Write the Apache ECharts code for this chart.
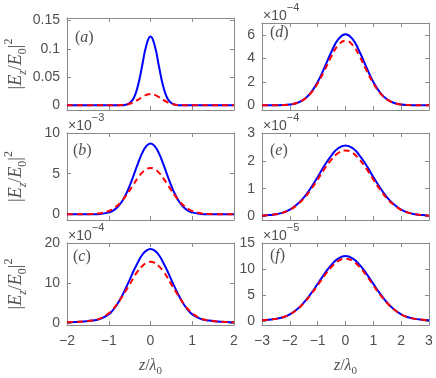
<!DOCTYPE html>
<html>
<head>
<meta charset="utf-8">
<script src="https://cdn.jsdelivr.net/npm/echarts@6/dist/echarts.min.js"></script>
<style>
  html, body { margin: 0; padding: 0; background: #fff; }
  #chart { width: 436px; height: 378px; }
</style>
</head>
<body>
<div id="chart"></div>
<script>
// z / lambda0 sample points
const zLeft = [-2, -1.8, -1.6, -1.4, -1.2, -1, -0.9, -0.8, -0.7, -0.6, -0.5, -0.4, -0.3, -0.2, -0.1, 0,
  0.1, 0.2, 0.3, 0.4, 0.5, 0.6, 0.7, 0.8, 0.9, 1, 1.2, 1.4, 1.6, 1.8, 2]
const zRight = [-3, -2.75, -2.5, -2.25, -2, -1.75, -1.5, -1.25, -1, -0.75, -0.5, -0.25, 0,
  0.25, 0.5, 0.75, 1, 1.25, 1.5, 1.75, 2, 2.25, 2.5, 2.75, 3]

// |Ez/E0|^2, as shown on each axis (already scaled by the x10^n factor)
const blueA = [0, 0, 0, 0, 0, 0, 0, 0, 0, 0.001, 0.004, 0.013, 0.035, 0.070, 0.106, 0.122,
  0.106, 0.070, 0.035, 0.013, 0.004, 0.001, 0, 0, 0, 0, 0, 0, 0, 0, 0]
const redA = [0, 0, 0, 0, 0, 0, 0, 0.0001, 0.0004, 0.0011, 0.0027, 0.0056, 0.0097, 0.0145, 0.0185, 0.020,
  0.0185, 0.0145, 0.0097, 0.0056, 0.0027, 0.0011, 0.0004, 0.0001, 0, 0, 0, 0, 0, 0, 0]
const blueB = [0, 0, 0, 0.01, 0.05, 0.23, 0.45, 0.84, 1.45, 2.34, 3.49, 4.85, 6.26, 7.52, 8.39, 8.7,
  8.39, 7.52, 6.26, 4.85, 3.49, 2.34, 1.45, 0.84, 0.45, 0.23, 0.05, 0.01, 0, 0, 0]
const redB = [0, 0, 0.01, 0.03, 0.13, 0.40, 0.67, 1.05, 1.56, 2.2, 2.94, 3.73, 4.49, 5.13, 5.55, 5.7,
  5.55, 5.13, 4.49, 3.73, 2.94, 2.2, 1.56, 1.05, 0.67, 0.40, 0.13, 0.03, 0.01, 0, 0]
const blueC = [0.15, 0.22, 0.35, 0.55, 1.0, 2.1, 3.2, 4.6, 6.4, 8.5, 10.75, 13.1, 15.2, 17.0, 18.1, 18.5,
  18.1, 17.0, 15.2, 13.1, 10.75, 8.5, 6.4, 4.6, 3.2, 2.1, 1.0, 0.55, 0.35, 0.22, 0.15]
const redC = [0.15, 0.22, 0.35, 0.6, 1.1, 2.4, 3.4, 4.7, 6.2, 7.9, 9.6, 11.4, 13.0, 14.2, 15.0, 15.3,
  15.0, 14.2, 13.0, 11.4, 9.6, 7.9, 6.2, 4.7, 3.4, 2.4, 1.1, 0.6, 0.35, 0.22, 0.15]
const blueD = [0, 0, 0.01, 0.02, 0.07, 0.2, 0.49, 1.06, 1.99, 3.24, 4.58, 5.64, 6.05,
  5.64, 4.58, 3.24, 1.99, 1.06, 0.49, 0.2, 0.07, 0.02, 0.01, 0, 0]
const redD = [0, 0, 0.01, 0.02, 0.07, 0.2, 0.48, 1.02, 1.87, 2.99, 4.2, 5.14, 5.5,
  5.14, 4.2, 2.99, 1.87, 1.02, 0.48, 0.2, 0.07, 0.02, 0.01, 0, 0]
const blueE = [0.03, 0.05, 0.08, 0.14, 0.25, 0.43, 0.68, 1.02, 1.42, 1.84, 2.2, 2.46, 2.55,
  2.46, 2.2, 1.84, 1.42, 1.02, 0.68, 0.43, 0.25, 0.14, 0.08, 0.05, 0.03]
const redE = [0.03, 0.05, 0.08, 0.14, 0.24, 0.41, 0.64, 0.96, 1.33, 1.72, 2.05, 2.29, 2.37,
  2.29, 2.05, 1.72, 1.33, 0.96, 0.64, 0.41, 0.24, 0.14, 0.08, 0.05, 0.03]
const blueF = [0.25, 0.35, 0.5, 0.8, 1.36, 2.29, 3.6, 5.26, 7.18, 9.15, 10.88, 12.07, 12.5,
  12.07, 10.88, 9.15, 7.18, 5.26, 3.6, 2.29, 1.36, 0.8, 0.5, 0.35, 0.25]
const redF = [0.25, 0.35, 0.5, 0.8, 1.35, 2.25, 3.5, 5.1, 6.9, 8.8, 10.45, 11.6, 12.0,
  11.6, 10.45, 8.8, 6.9, 5.1, 3.5, 2.25, 1.35, 0.8, 0.5, 0.35, 0.25]

// tick labels
const xTicksLeft = [-2, -1, 0, 1, 2]
const xTicksRight = [-3, -2, -1, 0, 1, 2, 3]
const yTicksA = [0, 0.05, 0.1, 0.15]
const yTicksB = [0, 5, 10]
const yTicksC = [0, 10, 20]
const yTicksD = [0, 2, 4, 6]
const yTicksE = [0, 1, 2, 3]
const yTicksF = [0, 5, 10, 15]
const panelNames = ['a', 'b', 'c', 'd', 'e', 'f']
const exponents = [null, '−3', '−4', '−4', '−4', '−5']

const AXIS = '#8a8a8a'
const TXT = '#505050'
const SANS = 'Liberation Sans'
const SERIF = 'Liberation Serif'

const panels = [
  { box: [67, 18, 167, 92], x: zLeft, xr: [-2, 2], xt: xTicksLeft, yr: [-0.0083, 0.1546], yt: yTicksA, blue: blueA, red: redA, col: 0, last: false },
  { box: [67, 133, 167, 87], x: zLeft, xr: [-2, 2], xt: xTicksLeft, yr: [-0.7, 10], yt: yTicksB, blue: blueB, red: redB, col: 0, last: false },
  { box: [67, 243, 167, 86], x: zLeft, xr: [-2, 2], xt: xTicksLeft, yr: [-0.55, 20], yt: yTicksC, blue: blueC, red: redC, col: 0, last: true },
  { box: [262, 23, 167, 87], x: zRight, xr: [-3, 3], xt: xTicksRight, yr: [-0.4, 7], yt: yTicksD, blue: blueD, red: redD, col: 1, last: false },
  { box: [262, 133, 167, 87], x: zRight, xr: [-3, 3], xt: xTicksRight, yr: [-0.126, 3], yt: yTicksE, blue: blueE, red: redE, col: 1, last: false },
  { box: [262, 243, 167, 86], x: zRight, xr: [-3, 3], xt: xTicksRight, yr: [-0.67, 15], yt: yTicksF, blue: blueF, red: redF, col: 1, last: true },
]
// panel letter positions (left, top)
const letterPos = [[75, 30], [73, 143], [73, 249], [270, 25], [270, 143], [270, 248]]

const minus = v => String(v).replace('-', '−')

const nameRich = {
  t: { fontFamily: SERIF, fontStyle: 'italic', fontWeight: 'normal', fontSize: 18, color: TXT, lineHeight: 26, verticalAlign: 'middle' },
  u: { fontFamily: SERIF, fontWeight: 'normal', fontSize: 18, color: TXT, lineHeight: 26, verticalAlign: 'middle' },
  s: { fontFamily: SERIF, fontStyle: 'italic', fontWeight: 'normal', fontSize: 12, color: TXT, lineHeight: 26, verticalAlign: 'bottom' },
  s0: { fontFamily: SERIF, fontWeight: 'normal', fontSize: 12, color: TXT, lineHeight: 26, verticalAlign: 'bottom' },
  p: { fontFamily: SERIF, fontWeight: 'normal', fontSize: 12, color: TXT, lineHeight: 26, verticalAlign: 'top' },
}
const xNameRich = {
  t: { fontFamily: SERIF, fontStyle: 'italic', fontWeight: 'normal', fontSize: 16, color: TXT, lineHeight: 22, verticalAlign: 'middle' },
  u: { fontFamily: SERIF, fontWeight: 'normal', fontSize: 16, color: TXT, lineHeight: 22, verticalAlign: 'middle' },
  s0: { fontFamily: SERIF, fontWeight: 'normal', fontSize: 11, color: TXT, lineHeight: 22, verticalAlign: 'bottom' },
}

const grid = [], xAxis = [], yAxis = [], series = [], title = []

panels.forEach((p, i) => {
  grid.push({ left: p.box[0], top: p.box[1], width: p.box[2], height: p.box[3], containLabel: false })
  const line = { show: true, onZero: false, lineStyle: { color: AXIS, width: 1 } }
  const xTick = { show: true, inside: true, length: 4, customValues: p.xt, lineStyle: { color: AXIS } }
  const yTick = { show: true, inside: true, length: 4, customValues: p.yt, lineStyle: { color: AXIS } }
  xAxis.push({
    gridIndex: i, type: 'value', min: p.xr[0], max: p.xr[1], position: 'bottom',
    axisLine: line, axisTick: xTick, splitLine: { show: false },
    axisLabel: {
      show: p.last, customValues: p.xt, margin: 9, color: TXT, fontFamily: SANS, fontSize: 14,
      formatter: minus,
    },
    name: p.last ? '{t|z}{u|/}{t|λ}{s0|0}' : '',
    nameLocation: 'middle', nameGap: 30,
    nameTextStyle: { rich: xNameRich },
  })
  xAxis.push({
    gridIndex: i, type: 'value', min: p.xr[0], max: p.xr[1], position: 'top',
    axisLine: line, axisTick: xTick, splitLine: { show: false }, axisLabel: { show: false },
  })
  yAxis.push({
    gridIndex: i, type: 'value', min: p.yr[0], max: p.yr[1], position: 'left',
    axisLine: line, axisTick: yTick, splitLine: { show: false },
    axisLabel: { customValues: p.yt, margin: 7, color: TXT, fontFamily: SANS, fontSize: 14 },
    name: p.col === 0 ? '{u||}{t|E}{s|z}{u|/}{t|E}{s0|0}{u||}{p|2}' : '',
    nameLocation: 'middle', nameRotate: 90, nameGap: 38,
    nameTextStyle: { rich: nameRich },
  })
  yAxis.push({
    gridIndex: i, type: 'value', min: p.yr[0], max: p.yr[1], position: 'right',
    axisLine: line, axisTick: yTick, splitLine: { show: false }, axisLabel: { show: false },
  })

  series.push({
    type: 'line', xAxisIndex: 2 * i, yAxisIndex: 2 * i,
    data: p.x.map((z, k) => [z, p.blue[k]]),
    smooth: 0.5, showSymbol: false, silent: true,
    lineStyle: { color: '#0000ff', width: 2 }, z: 2,
  })
  series.push({
    type: 'line', xAxisIndex: 2 * i, yAxisIndex: 2 * i,
    data: p.x.map((z, k) => [z, p.red[k]]),
    smooth: 0.5, showSymbol: false, silent: true,
    lineStyle: { color: '#ff0000', width: 2, type: [6, 4] }, z: 3,
  })

  title.push({
    text: '{p|(}{i|' + panelNames[i] + '}{p|)}',
    left: letterPos[i][0], top: letterPos[i][1], padding: 0,
    textStyle: {
      fontWeight: 'normal',
      rich: {
        p: { fontFamily: SERIF, fontWeight: 'normal', fontSize: 16, color: TXT },
        i: { fontFamily: SERIF, fontStyle: 'italic', fontWeight: 'normal', fontSize: 16, color: TXT },
      },
    },
  })
  if (exponents[i]) {
    title.push({
      text: '{x|×10}{e|' + exponents[i] + '}',
      left: p.box[0] + 1, top: p.box[1] - 21, padding: 0,
      textStyle: {
        fontWeight: 'normal',
        rich: {
          x: { fontFamily: SANS, fontWeight: 'normal', fontSize: 14, color: TXT, lineHeight: 21, verticalAlign: 'bottom' },
          e: { fontFamily: SANS, fontWeight: 'normal', fontSize: 11, color: TXT, lineHeight: 21, verticalAlign: 'top' },
        },
      },
    })
  }
})

const chart = echarts.init(document.getElementById('chart'), null, { renderer: 'canvas' })
chart.setOption({
  backgroundColor: '#fff',
  animation: false,
  title, grid, xAxis, yAxis, series,
})
</script>
</body>
</html>
